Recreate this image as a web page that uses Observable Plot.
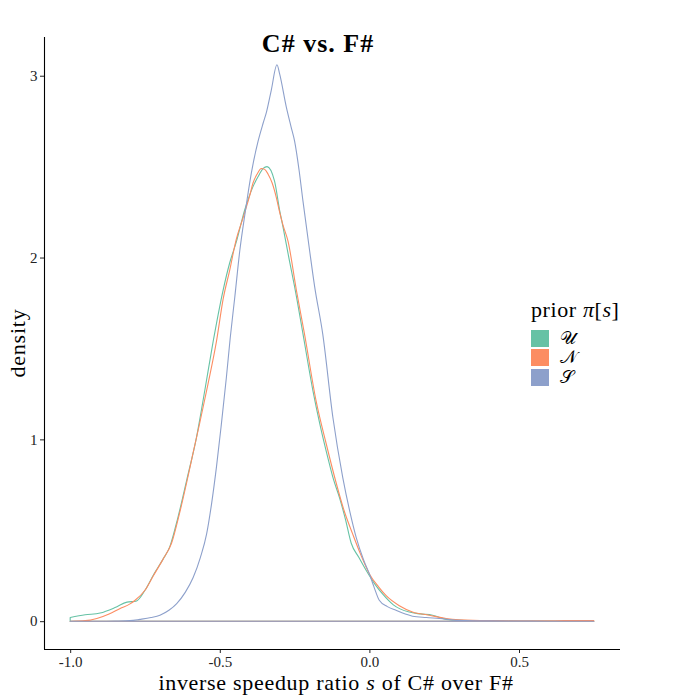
<!DOCTYPE html>
<html><head><meta charset="utf-8">
<script src="https://cdn.jsdelivr.net/npm/d3@7"></script>
<script src="https://cdn.jsdelivr.net/npm/@observablehq/plot@0.6"></script>
<style>
body{margin:0;background:#fff;}
#wrap{position:relative;width:700px;height:700px;font-family:"Liberation Serif",serif;color:#000;}
.abs{position:absolute;white-space:nowrap;line-height:1;}
</style></head><body><div id="wrap"></div>
<script>
const seriesNames = ["U", "N", "S"];
const seriesLabels = ["𝒰", "𝒩", "𝒮"];
const seriesColors = ["#66C2A5", "#FC8D62", "#8DA0CB"];

const uX = [-1.0, -0.95, -0.9, -0.85, -0.81, -0.78, -0.75, -0.72, -0.69, -0.667, -0.64, -0.61, -0.578, -0.55, -0.522, -0.489, -0.467, -0.444, -0.417, -0.389, -0.367, -0.355, -0.342, -0.317, -0.30, -0.289, -0.267, -0.25, -0.222, -0.189, -0.165, -0.139, -0.12, -0.10, -0.08, -0.061, -0.035, -0.011, 0.02, 0.044, 0.08, 0.133, 0.17, 0.211, 0.235, 0.256, 0.3, 0.4, 0.5, 0.6, 0.75];
const uY = [0.02, 0.035, 0.045, 0.075, 0.105, 0.11, 0.17, 0.26, 0.34, 0.41, 0.57, 0.78, 1.01, 1.27, 1.54, 1.82, 1.97, 2.09, 2.26, 2.39, 2.46, 2.49, 2.50, 2.42, 2.26, 2.17, 1.98, 1.84, 1.58, 1.27, 1.08, 0.90, 0.78, 0.68, 0.56, 0.43, 0.35, 0.28, 0.20, 0.15, 0.09, 0.05, 0.04, 0.033, 0.02, 0.01, 0.005, 0.003, 0.001, 0.001, 0.0];

const nX = [-1.0, -0.95, -0.911, -0.87, -0.833, -0.80, -0.783, -0.75, -0.722, -0.69, -0.661, -0.635, -0.611, -0.59, -0.567, -0.54, -0.511, -0.489, -0.467, -0.445, -0.422, -0.40, -0.389, -0.375, -0.361, -0.35, -0.339, -0.325, -0.311, -0.30, -0.289, -0.272, -0.244, -0.217, -0.178, -0.145, -0.111, -0.085, -0.056, -0.03, 0.0, 0.03, 0.056, 0.1, 0.144, 0.2, 0.256, 0.3, 0.4, 0.5, 0.6, 0.7, 0.75];
const nY = [0.0, 0.003, 0.015, 0.04, 0.07, 0.095, 0.115, 0.17, 0.25, 0.34, 0.43, 0.59, 0.76, 0.92, 1.09, 1.30, 1.54, 1.77, 1.93, 2.10, 2.22, 2.34, 2.41, 2.46, 2.49, 2.485, 2.46, 2.41, 2.33, 2.25, 2.18, 2.09, 1.82, 1.58, 1.21, 0.98, 0.76, 0.61, 0.48, 0.37, 0.26, 0.19, 0.14, 0.085, 0.051, 0.033, 0.015, 0.008, 0.003, 0.002, 0.002, 0.004, 0.003];

const sX = [-1.0, -0.9, -0.85, -0.8, -0.767, -0.73, -0.70, -0.67, -0.644, -0.615, -0.589, -0.565, -0.544, -0.528, -0.511, -0.495, -0.478, -0.465, -0.45, -0.433, -0.415, -0.394, -0.372, -0.355, -0.344, -0.328, -0.309, -0.30, -0.278, -0.262, -0.25, -0.235, -0.222, -0.2, -0.183, -0.156, -0.122, -0.089, -0.065, -0.044, -0.02, 0.0, 0.015, 0.033, 0.06, 0.089, 0.12, 0.144, 0.19, 0.233, 0.3, 0.4, 0.5, 0.6, 0.75];
const sY = [0.0, 0.0, 0.001, 0.003, 0.01, 0.02, 0.033, 0.06, 0.097, 0.16, 0.24, 0.35, 0.48, 0.64, 0.85, 1.08, 1.34, 1.56, 1.78, 2.04, 2.25, 2.47, 2.64, 2.74, 2.80, 2.92, 3.06, 3.01, 2.83, 2.72, 2.64, 2.48, 2.31, 2.04, 1.84, 1.58, 1.12, 0.79, 0.60, 0.46, 0.34, 0.26, 0.19, 0.115, 0.08, 0.06, 0.04, 0.027, 0.02, 0.015, 0.005, 0.002, 0.001, 0.0, 0.0];

const xTicks = [-1.0, -0.5, 0.0, 0.5];
const yTicks = [0, 1, 2, 3];
const titleText = "C# vs. F#";
const legendTitle = "prior";
const yLabel = "density";

const xs = [uX, nX, sX], ys = [uY, nY, sY];
const rows = [];
seriesNames.forEach((s, i) => xs[i].forEach((x, j) => rows.push({series: s, x, y: ys[i][j]})));

const xMin = d3.min(rows, d => d.x), xMax = d3.max(rows, d => d.x);
const yMax = d3.max(rows, d => d.y);
const xPad = (xMax - xMin) * 0.05, yPad = yMax * 0.05;

const W = 700, H = 700, mL = 44, mR = 80, mT = 37, mB = 51;
const FONT = "Liberation Serif, serif";

const plot = Plot.plot({
  width: W, height: H,
  marginLeft: mL, marginRight: mR, marginTop: mT, marginBottom: mB,
  style: {fontFamily: FONT, fontSize: "15px", color: "#222", background: "white"},
  x: {domain: [xMin - xPad, xMax + xPad], ticks: xTicks, tickFormat: d => d.toFixed(1).replace("\u2212", "-"), tickSize: 4, tickPadding: 3, label: null},
  y: {domain: [0 - yPad, yMax + yPad], ticks: yTicks, tickFormat: d => String(d), tickSize: 4, tickPadding: 3, label: null},
  color: {domain: seriesNames, range: seriesColors},
  marks: [
    Plot.areaY(rows, {x: "x", y1: 0, y2: "y", z: "series", stroke: "series", fill: "none", strokeWidth: 1.1, curve: "monotone-x"}),
    Plot.ruleX([xMin - xPad], {stroke: "black", strokeWidth: 1.1}),
    Plot.ruleY([0 - yPad], {stroke: "black", strokeWidth: 1.1})
  ]
});

const wrap = document.getElementById("wrap");
wrap.appendChild(plot);

function addText(html, style) {
  const d = document.createElement("div");
  d.className = "abs";
  d.innerHTML = html;
  Object.assign(d.style, style);
  wrap.appendChild(d);
  return d;
}
// title
addText(titleText, {left: "318px", top: "31px", transform: "translateX(-50%)", fontWeight: "bold", fontSize: "26px", letterSpacing: "1px"});
// x label
addText("inverse speedup ratio <i>s</i> of C# over F#", {left: "336px", top: "672px", transform: "translateX(-50%)", fontSize: "22px", letterSpacing: "0.7px"});
// y label
addText(yLabel, {left: "18px", top: "343px", transform: "translate(-50%,-50%) rotate(-90deg)", fontSize: "22px", letterSpacing: "0.8px"});
// legend
addText(legendTitle + " <i>π</i>[<i>s</i>]", {left: "531px", top: "299px", fontSize: "22px", letterSpacing: "0.6px"});
seriesNames.forEach((s, i) => {
  const top = 330 + i * 19.3;
  const sw = document.createElement("div");
  sw.className = "abs";
  Object.assign(sw.style, {left: "531px", top: top + "px", width: "18px", height: "17px", background: seriesColors[i]});
  wrap.appendChild(sw);
  addText(seriesLabels[i], {left: "560px", top: (top - 1) + "px", fontSize: "18px"});
});
</script></body></html>
